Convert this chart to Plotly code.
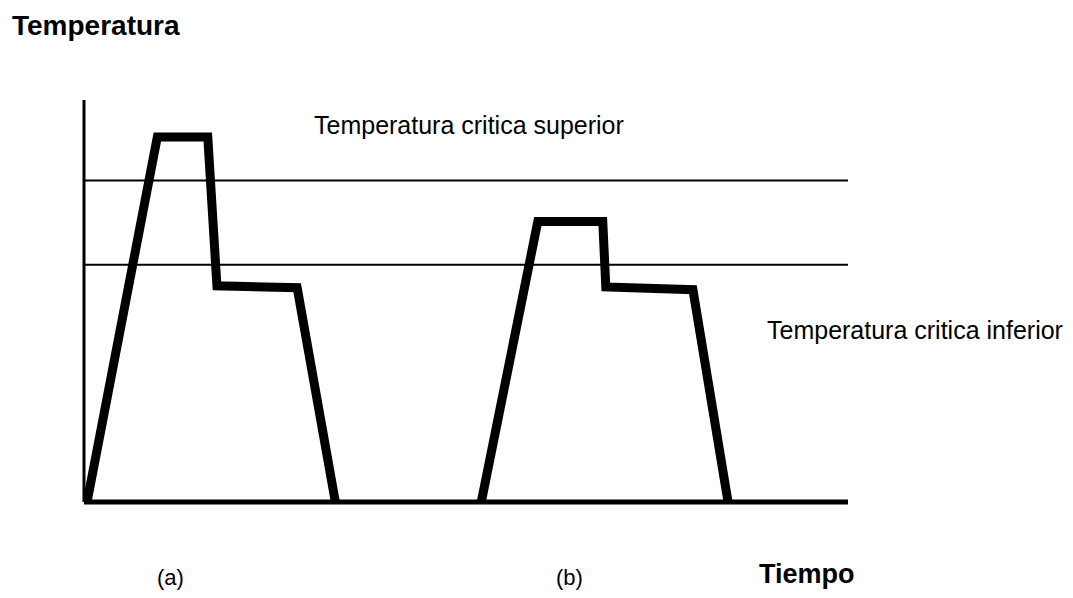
import plotly.graph_objects as go

# Thermal cycles: time (arbitrary units) vs temperature (arbitrary units)
cycle_a_time = [0.4, 9.6, 16.2, 17.4, 27.9, 32.9]
cycle_a_temp = [0.0, 90.8, 90.8, 53.8, 53.3, 0.0]

cycle_b_time = [52.0, 59.4, 67.9, 68.3, 79.7, 84.3]
cycle_b_temp = [0.0, 69.8, 69.8, 53.5, 52.8, 0.0]

# Critical temperature levels
upper_critical = 80.0
lower_critical = 59.0

axis_time = [0, 100]
axis_temp_top = 100

labels = {
    "title": "Temperatura",
    "upper": "Temperatura critica superior",
    "lower": "Temperatura critica inferior",
    "a": "(a)",
    "b": "(b)",
    "xlabel": "Tiempo",
}

FONT = "Liberation Sans, Arial, sans-serif"
INK = "#000000"

fig = go.Figure()

# vertical temperature axis
fig.add_trace(go.Scatter(x=[0, 0], y=[0, axis_temp_top], mode="lines",
                         line=dict(color=INK, width=3), hoverinfo="skip"))
# time baseline
fig.add_trace(go.Scatter(x=axis_time, y=[0, 0], mode="lines",
                         line=dict(color=INK, width=5), hoverinfo="skip"))
# critical temperature lines
for level in (upper_critical, lower_critical):
    fig.add_trace(go.Scatter(x=axis_time, y=[level, level], mode="lines",
                             line=dict(color=INK, width=2), hoverinfo="skip"))

# heat-treatment cycles
for tx, ty in ((cycle_a_time, cycle_a_temp), (cycle_b_time, cycle_b_temp)):
    fig.add_trace(go.Scatter(x=tx, y=ty, mode="lines",
                             line=dict(color=INK, width=9), hoverinfo="skip"))

def note(text, x, y, size, bold=False, xanchor="left", ref="paper"):
    fig.add_annotation(
        x=x, y=y, xref="x" if ref == "data" else "paper",
        yref="y" if ref == "data" else "paper",
        text=f"<b>{text}</b>" if bold else text,
        showarrow=False, xanchor=xanchor, yanchor="middle",
        font=dict(family=FONT, size=size, color=INK),
    )

note(labels["title"], -0.0759, 1.1529, 28, bold=True)
note(labels["upper"], 29.9, 93.8, 25, ref="data")
note(labels["lower"], 89.1, 42.8, 25, ref="data")
note(labels["a"], 0.1266, -0.1459, 22, xanchor="center")
note(labels["b"], 0.6329, -0.1459, 22, xanchor="center")
note(labels["xlabel"], 0.8696, -0.1388, 27, bold=True)

fig.update_layout(
    width=1073, height=598,
    margin=dict(l=70, r=213, t=90, b=83),
    paper_bgcolor="white", plot_bgcolor="white",
    showlegend=False,
    xaxis=dict(range=[-1.832, 101.57], visible=False, fixedrange=True),
    yaxis=dict(range=[-3.234, 102.49], visible=False, fixedrange=True),
)

fig.write_html("out.html", config={"displayModeBar": False})
